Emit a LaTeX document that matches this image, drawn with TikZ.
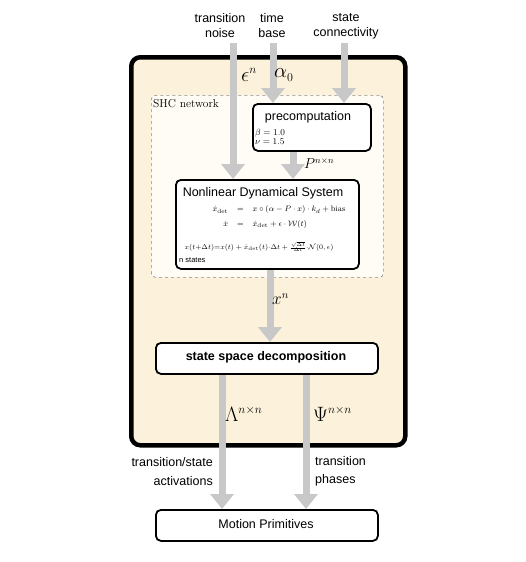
\documentclass[tikz,border=0pt]{standalone}
\usepackage{amsmath, amssymb}
\usepackage{fontspec}
\setsansfont{Liberation Sans}
\usepackage{tikz}
\usetikzlibrary{positioning, arrows.meta, calc}
\definecolor{cream}{HTML}{FCF1DA}
\definecolor{paper}{HTML}{FFFCF6}
\definecolor{flowgrey}{HTML}{C8C8C8}
\definecolor{dashgrey}{HTML}{8A8A8A}
\DeclareMathSizes{22}{22}{13}{10}
\DeclareMathSizes{15}{15}{9}{7}
\DeclareMathSizes{17}{17}{11}{8}

\begin{document}
\begin{tikzpicture}[
  x=1pt, y=-1pt,
  txt/.style={font=\sffamily\fontsize{12.5}{15}\selectfont, align=center, inner sep=0pt},
  sym/.style={font=\fontsize{22}{24}\selectfont, inner sep=0pt},
  box/.style={rectangle, rounded corners=5pt, draw=black, line width=1.8pt, fill=white, inner sep=0pt},
  flow/.style={-{Triangle[width=23pt, length=15pt]}, line width=7pt, flowgrey},
]
\useasboundingbox (0,0) rectangle (525,562);

%% Frames
\node[rectangle, rounded corners=9pt, draw=black, line width=4.5pt, fill=cream,
      minimum width=274pt, minimum height=388pt, anchor=north west] (shc) at (129,55) {};
\node[rectangle, rounded corners=4pt, draw=dashgrey, dashed, line width=0.7pt, fill=paper,
      minimum width=232pt, minimum height=182pt, anchor=north west] (net) at (151,95) {};
\node[font=\fontsize{11.5}{13}\selectfont, anchor=west, inner sep=0pt] (net-lbl) at (153,104) {SHC network};

%% Boxes
\node[box, minimum width=118pt, minimum height=47pt, anchor=north west] (pre) at (252,103) {};
\node[box, minimum width=183pt, minimum height=89pt, anchor=north west] (nds) at (175,179) {};
\node[box, minimum width=222pt, minimum height=31pt, anchor=north west] (ssd) at (155,342) {};
\node[box, minimum width=222pt, minimum height=31pt, anchor=north west] (mp)  at (155,509) {};

%% Box contents
\node[txt] (pre-title) at (308,117) {precomputation};
\node[font=\fontsize{9}{8.5}\selectfont, align=left, anchor=west, inner sep=0pt] (pre-par)
  at (255,137) {$\beta=1.0$\\$\nu=1.5$};
\node[txt] (nds-title) at (263,193) {Nonlinear Dynamical System};
\node[font=\fontsize{8}{9.5}\selectfont, inner sep=0pt] (nds-eq) at (279,217)
  {$\setlength{\arraycolsep}{4.5pt}\begin{array}{rcl}
    \dot{x}_{\mathrm{det}} & = & x\circ(\alpha-P\cdot x)\cdot k_d+\mathrm{bias}\\[5pt]
    \dot{x} & = & \dot{x}_{\mathrm{det}}+\epsilon\cdot\mathcal{W}(t)
  \end{array}$};
\node[font=\fontsize{7.5}{9}\selectfont, inner sep=0pt] (nds-int) at (259,247)
  {$x(t{+}\Delta t){=}x(t)+\dot{x}_{\mathrm{det}}(t){\cdot}\Delta t+\tfrac{\sqrt{\Delta t}}{\Delta t}{\cdot}\mathcal{N}(0,\epsilon)$};
\node[font=\sffamily\fontsize{7.5}{9}\selectfont, anchor=west, inner sep=0pt] (nds-n) at (179,260) {n states};
\node[txt, font=\sffamily\bfseries\fontsize{12.5}{15}\selectfont] (ssd-title) at (266,357) {state space decomposition};
\node[txt] (mp-title) at (266,524) {Motion Primitives};

%% Inputs
\node[txt] (noise-lbl) at (220,26) {transition\\noise};
\node[txt] (time-lbl)  at (272,26) {time\\base};
\node[txt] (conn-lbl)  at (346,26) {state\\connectivity};
\coordinate (noise-in) at (233,43);
\coordinate (time-in)  at (273,43);
\coordinate (conn-in)  at (344,43);
\coordinate (p-lane)   at (293,0);
\coordinate (x-lane)   at (270,0);
\coordinate (lam-lane) at (222,0);
\coordinate (psi-lane) at (306,0);

%% Flows
\draw[flow] (noise-in) -- (noise-in |- nds.north);
\draw[flow] (time-in) -- (time-in |- pre.north);
\draw[flow] (conn-in) -- (conn-in |- pre.north);
\draw[flow] (p-lane |- pre.south) -- (p-lane |- nds.north);
\draw[flow] (x-lane |- nds.south) -- (x-lane |- ssd.north);
\draw[flow] (lam-lane |- ssd.south) -- (lam-lane |- mp.north);
\draw[flow] (psi-lane |- ssd.south) -- (psi-lane |- mp.north);

%% Signal labels
\node[sym, anchor=west] (eps-lbl) at (241,75) {$\epsilon^{n}$};
\node[sym, anchor=west] (alpha-lbl) at (274,75) {$\alpha_0$};
\node[sym, font=\fontsize{15}{17}\selectfont, anchor=west] (p-lbl) at (304,163) {$P^{n\times n}$};
\node[sym, font=\fontsize{17}{19}\selectfont, anchor=west] (x-lbl) at (272,299) {$x^{n}$};
\node[sym, anchor=west] (lam-lbl) at (225,414) {$\Lambda^{n\times n}$};
\node[sym, anchor=west] (psi-lbl) at (313,414) {$\Psi^{n\times n}$};
\node[txt, align=right, anchor=east, font=\sffamily\fontsize{12.5}{19}\selectfont] (act-lbl) at (213,472) {transition/state\\activations};
\node[txt, align=left, anchor=west, font=\sffamily\fontsize{12.5}{18}\selectfont] (phase-lbl) at (315,471) {transition\\phases};

\end{tikzpicture}
\end{document}
